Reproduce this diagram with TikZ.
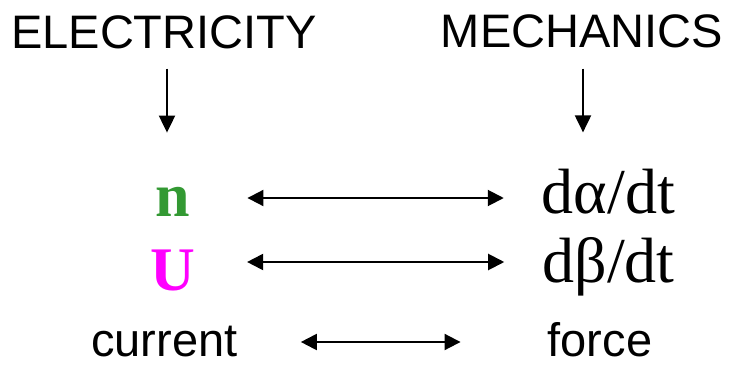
\documentclass[tikz,border=0pt]{standalone}
\usepackage{fontspec}
\setmainfont{Liberation Serif}
\setsansfont{Liberation Sans}
\usetikzlibrary{arrows.meta}
\definecolor{ngreen}{RGB}{51,153,51}
\definecolor{umag}{RGB}{255,0,255}
\begin{document}
\begin{tikzpicture}[x=1pt,y=-1pt,
  heading/.style={inner sep=0pt, anchor=base, font=\sffamily\fontsize{47}{47}\selectfont},
  word/.style={inner sep=0pt, anchor=base, font=\sffamily\fontsize{47}{47}\selectfont},
  qty/.style={inner sep=0pt, anchor=base, font=\rmfamily\fontsize{64}{64}\selectfont},
  sym/.style={inner sep=0pt, anchor=base, font=\rmfamily\bfseries\fontsize{62}{62}\selectfont},
  arr/.style={line width=2pt, {Triangle[length=16pt,width=16pt]}-{Triangle[length=16pt,width=16pt]}},
  darr/.style={line width=2pt, -{Triangle[length=17pt,width=16pt]}}]
\useasboundingbox (0,0) rectangle (732,367);

% column headings
\node[heading] (elec) at (164,48) {ELECTRICITY};
\node[heading] (mech) at (582,47) {MECHANICS};

% electrical quantities
\node[sym, text=ngreen] (n) at (173,216) {n};
\node[sym, text=umag] (U) at (172.5,290) {U};
\node[word] (cur) at (164.5,356) {current};

% mechanical quantities
\node[qty] (da) at (608.5,213) {dα/dt};
\node[qty] (db) at (608.5,282) {dβ/dt};
\node[word] (force) at (600,356) {force};

% row levels of the double arrows
\coordinate (r1) at (0,198);
\coordinate (r2) at (0,262);
\coordinate (r3) at (0,342);

% heading arrows
\draw[darr, shorten <=20pt, shorten >=54pt] ([xshift=3pt]elec.south) -- ([xshift=3pt]elec.south |- n.north);
\draw[darr, shorten <=21pt, shorten >=36pt] ([xshift=1pt]mech.south) -- ([xshift=1pt]mech.south |- da.north);

% correspondences
\draw[arr, shorten <=57pt, shorten >=38pt] (n.east |- r1) -- (da.west |- r1);
\draw[arr, shorten <=52pt, shorten >=38pt] (U.east |- r2) -- (db.west |- r2);
\draw[arr, shorten <=63pt, shorten >=87pt] (cur.east |- r3) -- (force.west |- r3);
\end{tikzpicture}
\end{document}
